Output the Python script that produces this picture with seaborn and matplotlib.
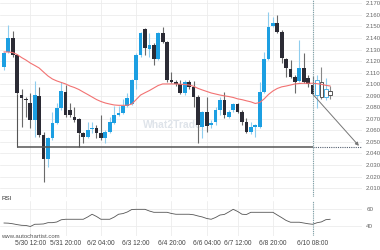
import numpy as np
import pandas as pd
import matplotlib
matplotlib.use("Agg")
import matplotlib.pyplot as plt
import seaborn as sns

# ---------------- data ----------------
opens = [2.1149, 2.1279, 2.1400, 2.1253, 2.0906, 2.0867, 2.0837, 2.0690, 2.0898, 2.0560,
         2.0352, 2.0534, 2.0664, 2.0794, 2.0932, 2.0776, 2.0716, 2.0698, 2.0577, 2.0543,
         2.0612, 2.0621, 2.0577, 2.0534, 2.0586, 2.0664, 2.0733, 2.0750, 2.0811, 2.0828,
         2.1036, 2.1253, 2.1478, 2.1305, 2.1339, 2.1218, 2.1443, 2.1365, 2.1036, 2.1019,
         2.1002, 2.0924, 2.1019, 2.0976, 2.0889, 2.0629, 2.0759, 2.0646, 2.0672, 2.0776,
         2.0863, 2.0716, 2.0776, 2.0828, 2.0759, 2.0672, 2.0586, 2.0629, 2.0629, 2.0932,
         2.1218, 2.1504, 2.1530, 2.1452, 2.1218, 2.1131, 2.1062, 2.1028, 2.1140, 2.1054,
         2.0993, 2.0906, 2.1019, 2.0889, 2.0941]
highs = [2.1279, 2.1512, 2.1461, 2.1261, 2.0958, 2.0889, 2.0924, 2.1028, 2.0976, 2.0586,
         2.0543, 2.0759, 2.0837, 2.1019, 2.0993, 2.0837, 2.0802, 2.0707, 2.0586, 2.0672,
         2.0672, 2.0646, 2.0733, 2.0603, 2.0716, 2.0811, 2.0811, 2.0872, 2.0924, 2.1045,
         2.1270, 2.1452, 2.1487, 2.1443, 2.1357, 2.1452, 2.1495, 2.1374, 2.1105, 2.1036,
         2.1036, 2.1036, 2.1036, 2.1028, 2.0906, 2.0768, 2.0889, 2.0690, 2.0802, 2.0889,
         2.0932, 2.0776, 2.0837, 2.0837, 2.0776, 2.0707, 2.0672, 2.0655, 2.1019, 2.1279,
         2.1625, 2.1582, 2.1599, 2.1469, 2.1227, 2.1209, 2.1079, 2.1383, 2.1270, 2.1079,
         2.1071, 2.1079, 2.1149, 2.1054, 2.0984]
lows = [2.1123, 2.1270, 2.1235, 2.0915, 2.0629, 2.0716, 2.0621, 2.0543, 2.0543, 2.0153,
        2.0283, 2.0517, 2.0655, 2.0776, 2.0716, 2.0716, 2.0672, 2.0569, 2.0491, 2.0534,
        2.0577, 2.0534, 2.0517, 2.0491, 2.0577, 2.0655, 2.0724, 2.0742, 2.0802, 2.0820,
        2.0958, 2.1235, 2.1253, 2.1235, 2.1166, 2.1209, 2.1357, 2.1019, 2.1010, 2.0984,
        2.0915, 2.0906, 2.0958, 2.0802, 2.0491, 2.0534, 2.0586, 2.0621, 2.0646, 2.0733,
        2.0707, 2.0707, 2.0759, 2.0750, 2.0646, 2.0577, 2.0569, 2.0543, 2.0621, 2.0924,
        2.1209, 2.1495, 2.1443, 2.1183, 2.1062, 2.1054, 2.0924, 2.1019, 2.1010, 2.0976,
        2.0906, 2.0794, 2.0872, 2.0863, 2.0872]
closes = [2.1270, 2.1400, 2.1253, 2.0924, 2.0880, 2.0863, 2.0690, 2.0906, 2.0560, 2.0352,
          2.0534, 2.0664, 2.0794, 2.0941, 2.0733, 2.0733, 2.0690, 2.0577, 2.0543, 2.0603,
          2.0621, 2.0577, 2.0534, 2.0586, 2.0672, 2.0733, 2.0750, 2.0811, 2.0880, 2.1036,
          2.1253, 2.1443, 2.1313, 2.1339, 2.1218, 2.1443, 2.1365, 2.1036, 2.1019, 2.1002,
          2.0924, 2.1019, 2.0976, 2.0889, 2.0646, 2.0759, 2.0638, 2.0664, 2.0776, 2.0863,
          2.0733, 2.0759, 2.0828, 2.0759, 2.0672, 2.0586, 2.0629, 2.0646, 2.0932, 2.1218,
          2.1495, 2.1530, 2.1452, 2.1227, 2.1140, 2.1062, 2.1019, 2.1140, 2.1019, 2.1002,
          2.0915, 2.1036, 2.0889, 2.0958, 2.0906]
ma_values = [2.1279, 2.1279, 2.1274, 2.1257, 2.1231, 2.1209, 2.1183, 2.1162, 2.1140, 2.1105,
             2.1071, 2.1045, 2.1028, 2.1015, 2.1002, 2.0984, 2.0971, 2.0954, 2.0932, 2.0911,
             2.0889, 2.0867, 2.0850, 2.0837, 2.0828, 2.0820, 2.0817, 2.0817, 2.0817, 2.0828,
             2.0867, 2.0906, 2.0926, 2.0945, 2.0967, 2.0989, 2.1002, 2.1002, 2.1002, 2.1002,
             2.1000, 2.0997, 2.0993, 2.0982, 2.0964, 2.0950, 2.0937, 2.0924, 2.0915, 2.0906,
             2.0899, 2.0893, 2.0885, 2.0873, 2.0866, 2.0856, 2.0847, 2.0833, 2.0841, 2.0872,
             2.0911, 2.0941, 2.0963, 2.0977, 2.0984, 2.0993, 2.1002, 2.1006, 2.1008, 2.1008,
             2.1008, 2.1004, 2.0999, 2.0990, 2.0984]
rsi_values = [43.5, 43.3, 42.6, 41.6, 40.8, 40.6, 39.4, 42.0, 42.1, 42.4,
              43.9, 43.9, 44.7, 47.3, 47.9, 47.9, 47.9, 47.9, 47.9, 50.6,
              53.8, 51.2, 47.9, 47.9, 47.9, 50.4, 53.8, 54.6, 56.5, 59.4,
              59.6, 59.6, 59.6, 57.6, 56.1, 56.1, 56.1, 56.1, 54.7, 53.8,
              53.8, 53.8, 53.8, 53.2, 51.8, 50.6, 48.8, 47.9, 50.0, 52.9,
              53.6, 56.5, 59.6, 57.1, 53.8, 53.5, 56.1, 56.1, 56.1, 56.1,
              56.1, 56.1, 52.9, 49.8, 46.5, 44.4, 44.4, 44.4, 43.5, 42.6,
              42.0, 43.8, 44.8, 47.4, 47.9]
support_level = 2.0456
target_level = 2.0466
support_start = 3
touch_candles = [3, 17]
signal_candle = 70
target_candle = 80.5
date_labels = ["5/30 12:00", "5/31 20:00", "6/2 04:00", "6/3 12:00", "6/4 20:00",
               "6/6 04:00", "6/7 12:00", "6/8 20:00", "6/10 08:00"]
date_positions = [6, 14, 22, 30, 38, 46, 53, 61, 70]
price_ticks = [2.17, 2.16, 2.15, 2.14, 2.13, 2.12, 2.11, 2.10, 2.09, 2.08,
               2.07, 2.06, 2.05, 2.04, 2.03, 2.02, 2.01]
rsi_ticks = [60, 40]

df = pd.DataFrame({"i": np.arange(len(opens)), "open": opens, "high": highs,
                   "low": lows, "close": closes, "ma": ma_values, "rsi": rsi_values})

# ---------------- style ----------------
sns.set_theme(style="white")
plt.rcParams['font.family'] = ['Liberation Sans', 'DejaVu Sans']

fig = plt.figure(figsize=(3.8, 2.5), dpi=100)
ax = fig.add_axes([0.0, 0.212, 0.9526, 0.788])
rx = fig.add_axes([0.0, 0.056, 0.9526, 0.14], sharex=ax)

BLUE = "#1c9fe2"
DARK = "#2b2b35"
BLUE_WICK = "#8fcdee"
DARK_WICK = "#6a6a6a"
hollow_from = signal_candle + 1

for a in (ax, rx):
    for s in a.spines.values():
        s.set_visible(False)
    a.set_facecolor("white")
    a.grid(True, color="#ececec", lw=0.6)
    a.set_axisbelow(True)

# candles
for r in df.itertuples():
    bull = r.close >= r.open
    wc = BLUE_WICK if bull else DARK_WICK
    if r.i >= hollow_from:
        wc = "#8fcdee" if bull else "#888888"
    ax.vlines(r.i, r.low, r.high, color=wc, lw=0.8, zorder=2)
    h = max(abs(r.close - r.open), 0.0006)
    b = min(r.open, r.close)
    if r.i >= hollow_from:
        ec = "#4fb4e8" if bull else "#555555"
        ax.bar(r.i, h, bottom=b, width=0.8, facecolor="white", edgecolor=ec, lw=0.7, zorder=3)
    else:
        ax.bar(r.i, h, bottom=b, width=0.85, color=BLUE if bull else DARK, lw=0, zorder=3)

# moving average
sns.lineplot(data=df, x="i", y="ma", ax=ax, color="#f27272", lw=0.8, zorder=4)

# support line and markers
ax.hlines(support_level, support_start, signal_candle, color="#555555", lw=1.1, zorder=5)
ax.hlines(support_level, signal_candle, 81.2, color="#556070", lw=0.8, linestyles=(0, (1, 1)), zorder=5)
for t in touch_candles:
    ax.vlines(t, support_level, lows[t], color="#555555", lw=0.8, zorder=5)

# forecast arrow
ax.annotate("", xy=(target_candle, target_level), xytext=(signal_candle, closes[signal_candle]),
            arrowprops=dict(arrowstyle="-|>", color="#777777", lw=0.7,
                            mutation_scale=5, shrinkA=0, shrinkB=0), zorder=6)

# vertical signal line
for a in (ax, rx):
    a.axvline(signal_candle, color="#7a9ea6", lw=0.8, ls=(0, (1, 1)), zorder=6)

# watermark
ax.text(38.3, 2.0646, "What2Trade", fontsize=7.5, fontweight="bold", color="#dfe4ea",
        ha="center", va="center", zorder=1)

ax.set_xlim(-0.88, 81.2)
ax.set_ylim(2.0023, 2.1729)
ax.yaxis.tick_right()
ax.set_yticks(price_ticks)
ax.set_yticklabels([f"{v:.3f}" for v in price_ticks])
ax.tick_params(axis="y", labelsize=4.3, pad=3, length=0, colors="#666666")
ax.set_xticks(date_positions)
ax.tick_params(axis="x", length=0, labelbottom=False)
ax.set_xlabel("")
ax.set_ylabel("")

# RSI panel
sns.lineplot(data=df, x="i", y="rsi", ax=rx, color="#555555", lw=0.6)
rx.set_ylim(28.2, 69.4)
rx.yaxis.tick_right()
rx.set_yticks(rsi_ticks)
rx.set_yticklabels([str(v) for v in rsi_ticks])
rx.tick_params(axis="y", labelsize=4.5, pad=3, length=0, colors="#666666")
rx.set_xticks(date_positions)
rx.set_xticklabels(date_labels)
rx.tick_params(axis="x", labelsize=4.8, pad=3, length=0, colors="#444444")
rx.set_xlabel("")
rx.set_ylabel("")

fig.text(0.003, 0.208, "RSI", fontsize=4.5, color="#333333", ha="left", va="center")
fig.text(0.003, 0.052, "www.autochartist.com", fontsize=4.3, color="#555555", ha="left", va="center")

fig.savefig("out.png", dpi=100, facecolor="white")
